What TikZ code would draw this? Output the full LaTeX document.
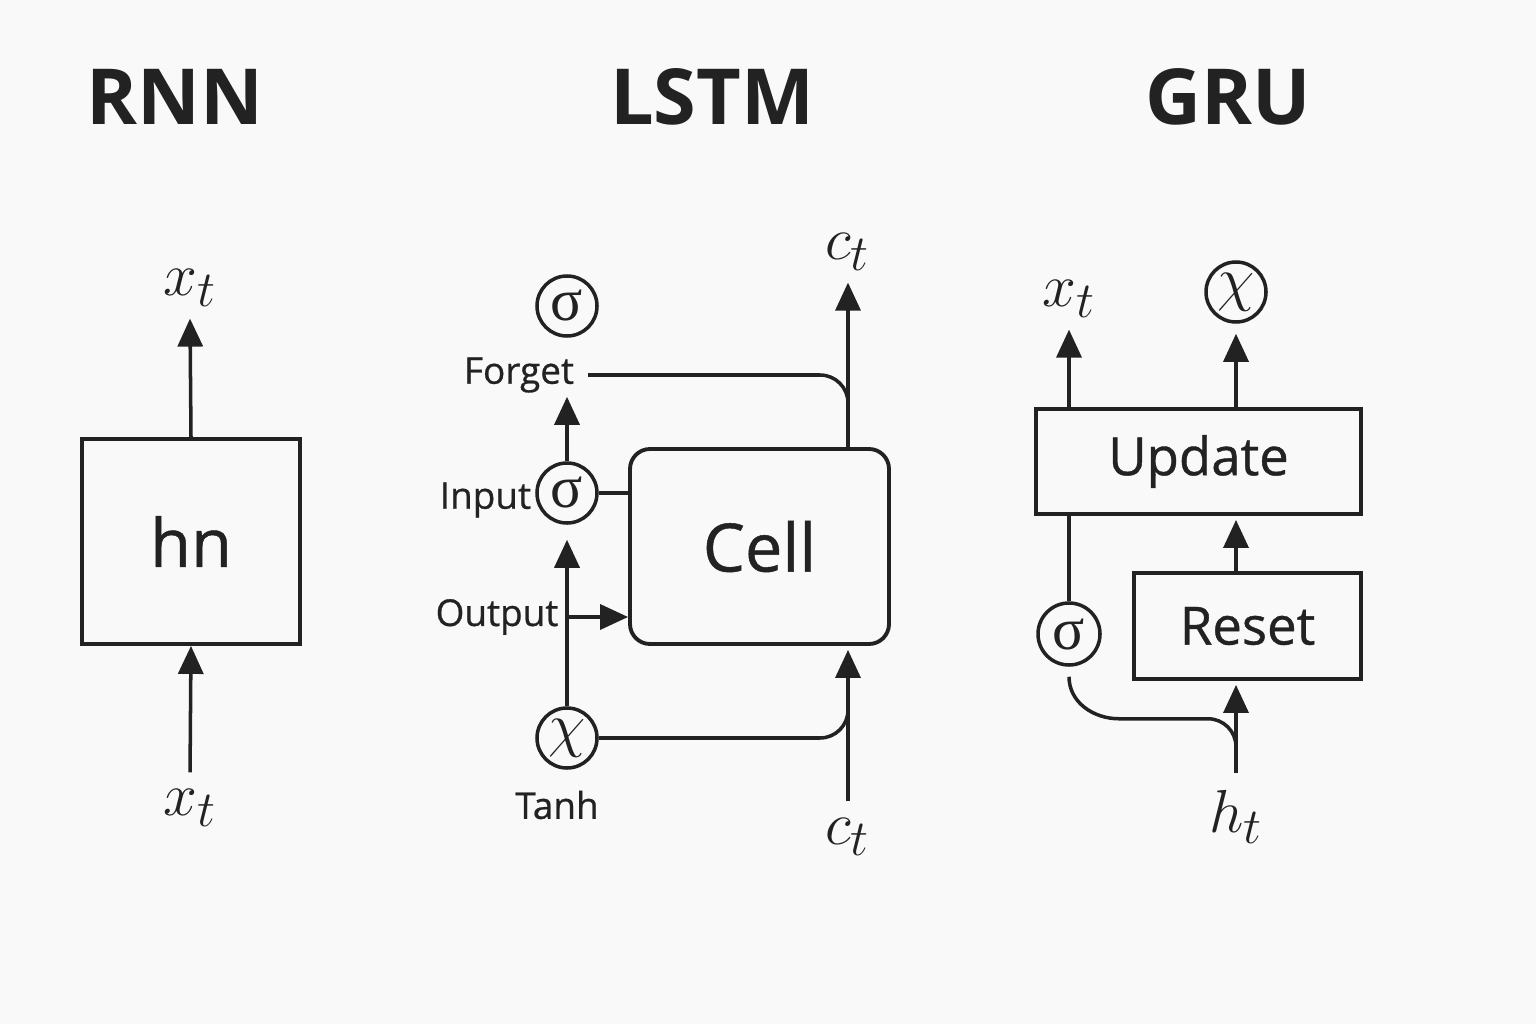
\documentclass[tikz,border=0pt]{standalone}
\usepackage{fontspec}
\setsansfont{Open Sans}
\newfontfamily\medsans{Open Sans}[FakeBold=0.7]
\newfontfamily\greekserif{Liberation Serif}
\usepackage{amsmath}
\definecolor{InkDark}{HTML}{222222}
\definecolor{PaperGrey}{HTML}{F9F9F9}
\usetikzlibrary{arrows.meta, positioning, calc}
\tikzset{
  titletext/.style={font=\sffamily\bfseries\fontsize{22}{26}\selectfont, text=InkDark},
  unitbox/.style={rectangle, draw=InkDark, line width=1.1pt, text=InkDark, inner sep=0pt},
  bigword/.style={font=\medsans\fontsize{19}{22}\selectfont},
  midword/.style={font=\medsans\fontsize{15}{18}\selectfont},
  smallword/.style={font=\medsans\fontsize{10.5}{13}\selectfont, text=InkDark, inner sep=1pt},
  mathlabel/.style={font=\fontsize{19}{22}\selectfont, text=InkDark},
  gatecircle/.style={circle, draw=InkDark, line width=1pt, minimum size=0.6cm, inner sep=0pt, font=\fontsize{17}{18}\selectfont, text=InkDark},
  flowline/.style={InkDark, line width=1pt},
  flowarrow/.style={-{Triangle[length=0.28cm, width=0.25cm]}, InkDark, line width=1pt}
}
\newcommand{\sigup}{{\greekserif σ}}
\begin{document}
\begin{tikzpicture}
  \fill[PaperGrey] (0,0) rectangle (15.36,10.24);
  \useasboundingbox (0,0) rectangle (15.36,10.24);

  % RNN
  \node[titletext] (rnnTitle) at (1.75,9.27) {RNN};
  \node[unitbox, bigword, minimum width=2.18cm, minimum height=2.05cm] (rnnBox) at (1.91,4.825) {hn};
  \node[mathlabel] (rnnOut) at (1.90,7.36) {$x_t$};
  \node[mathlabel] (rnnIn) at (1.90,2.16) {$x_t$};
  \draw[flowarrow] (rnnBox.north) -- (rnnOut.south);
  \draw[flowarrow, shorten <=0.05cm] (rnnIn.north) -- (rnnBox.south);

  % LSTM
  \node[titletext] (lstmTitle) at (7.12,9.27) {LSTM};
  \node[unitbox, bigword, rounded corners=0.2cm, minimum width=2.59cm, minimum height=1.95cm] (cell) at (7.595,4.775) {Cell};
  \node[gatecircle] (sigTop) at (5.67,7.18) {\sigup};
  \node[smallword] (forget) at (5.19,6.49) {Forget};
  \node[gatecircle] (sigIn) at (5.67,5.31) {\sigup};
  \node[smallword, left=0pt of sigIn, yshift=-0.07cm] (input) {Input};
  \node[smallword] (output) at (4.97,4.07) {Output};
  \node[gatecircle] (chiT) at (5.67,2.86) {$\chi$};
  \node[smallword] (tanh) at (5.57,2.19) {Tanh};
  \node[mathlabel] (ctOut) at (8.48,7.72) {$c_t$};
  \node[mathlabel] (ctIn) at (8.48,1.87) {$c_t$};
  \draw[flowarrow] (cell.north -| ctOut) -- (ctOut.south);
  \draw[flowline] ([xshift=0.1cm]forget.east) -- ($(forget.east -| ctOut)+(-0.28,0)$) arc[start angle=90, end angle=0, radius=0.28];
  \draw[flowline] (sigIn.east) -- (sigIn.east -| cell.west);
  \draw[flowarrow] (sigIn.north) -- (forget.south -| sigIn);
  \draw[flowarrow, shorten >=0.15cm] (chiT.north) -- (sigIn.south);
  \draw[flowarrow] (output.east -| chiT) -- (output.east -| cell.west);
  \draw[flowline] (chiT.east) -- ($(chiT.east -| ctIn)+(-0.28,0)$) arc[start angle=-90, end angle=0, radius=0.28];
  \draw[flowarrow, shorten <=0.05cm, shorten >=0.04cm] (ctIn.north) -- (cell.south -| ctIn);

  % GRU
  \node[titletext] (gruTitle) at (12.28,9.27) {GRU};
  \node[unitbox, midword, minimum width=3.25cm, minimum height=1.05cm] (update) at (11.985,5.625) {Update};
  \node[unitbox, midword, minimum width=2.27cm, minimum height=1.06cm] (reset) at (12.475,3.98) {Reset};
  \node[mathlabel] (gxt) at (10.69,7.25) {$x_t$};
  \node[gatecircle] (gchi) at (12.36,7.32) {$\chi$};
  \node[gatecircle, minimum size=0.62cm] (gsig) at (10.69,3.90) {\sigup};
  \node[mathlabel] (ht) at (12.36,2.07) {$h_t$};
  \draw[flowarrow] (update.north -| gxt) -- (gxt.south);
  \draw[flowarrow, shorten >=0.1cm] (update.north -| gchi) -- (gchi.south);
  \draw[flowline] (update.south -| gsig) -- (gsig.north);
  \draw[flowarrow, shorten >=0.04cm] (reset.north -| gchi) -- (update.south -| gchi);
  \draw[flowarrow, shorten <=0.05cm, shorten >=0.04cm] (ht.north) -- (reset.south -| ht);
  \draw[flowline] ($(gsig.south)+(0,-0.1)$) to[out=-90, in=180] ++(0.5,-0.42) -- ++(0.89,0) arc[start angle=90, end angle=0, radius=0.28];
\end{tikzpicture}
\end{document}
